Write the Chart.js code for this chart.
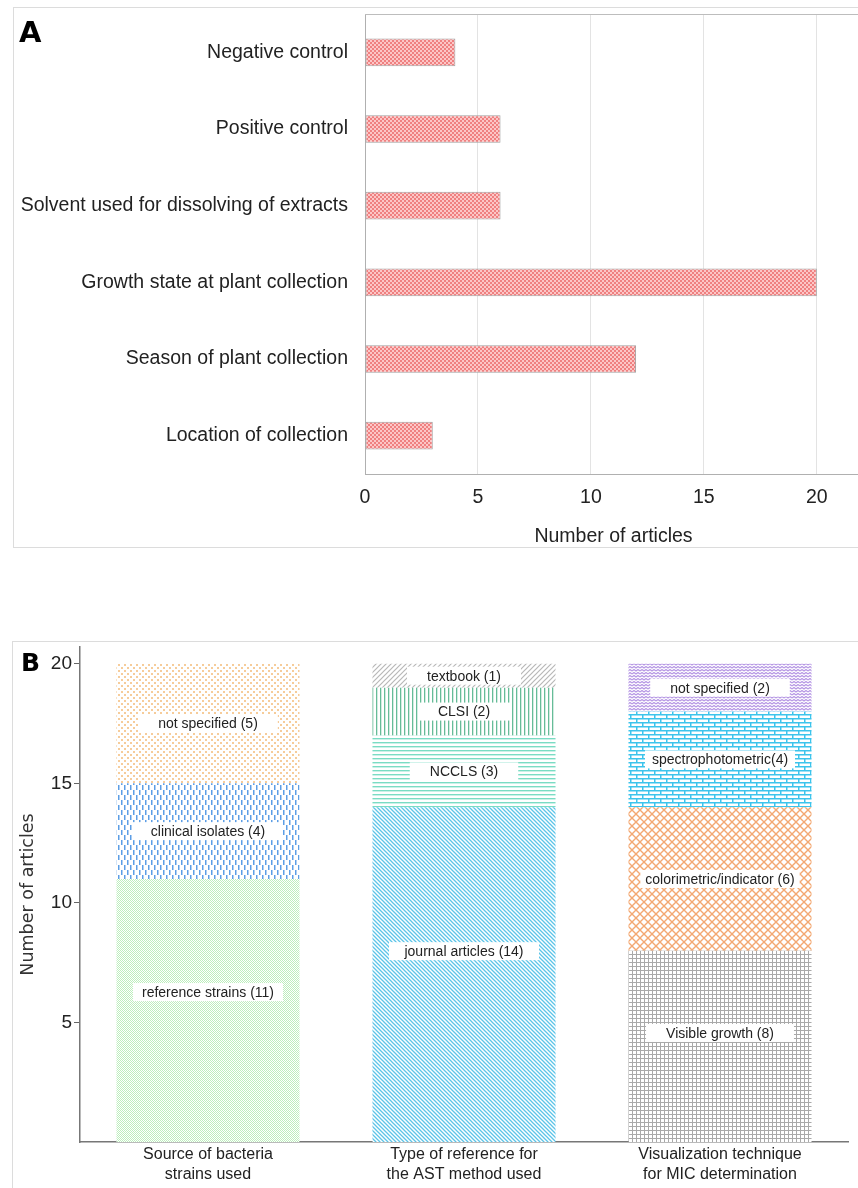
<!DOCTYPE html>
<html>
<head>
<meta charset="utf-8">
<script src="https://cdn.jsdelivr.net/npm/chart.js@4.4.1/dist/chart.umd.min.js"></script>
<style>
  html, body { margin: 0; padding: 0; background: #fff; overflow: hidden; width: 858px; height: 1188px; }
  .frame { position: absolute; border: 1px solid #dcdcdc; box-sizing: border-box; }
  .tag { position: absolute; font-family: "DejaVu Sans", sans-serif; font-weight: bold; line-height: 1; color: #000; }
  canvas { position: absolute; left: 0; }
</style>
</head>
<body>
<div class="frame" style="left:13px; top:7px; width:860px; height:541px;"></div>
<div class="frame" style="left:12px; top:641px; width:860px; height:600px;"></div>
<canvas id="chartA" width="870" height="560" style="top:0;"></canvas>
<canvas id="chartB" width="858" height="558" style="top:630px;"></canvas>
<div class="tag" style="left:19px; top:18px; font-size:29px;">A</div>
<div class="tag" style="left:21px; top:650px; font-size:25px;">B</div>

<script>
// Panel A: reported items
const itemLabels = ['Negative control', 'Positive control', 'Solvent used for dissolving of extracts',
  'Growth state at plant collection', 'Season of plant collection', 'Location of collection'];
const itemCounts = [4, 6, 6, 20, 12, 3];
const xTicksA = [0, 5, 10, 15, 20];

// Panel B: three stacked columns
const groupLabels = [['Source of bacteria', 'strains used'], ['Type of reference for', 'the AST method used'],
  ['Visualization technique', 'for MIC determination']];
const sourceNames = ['reference strains ', 'clinical isolates ', 'not specified '];
const sourceCounts = [11, 4, 5];
const referenceNames = ['journal articles ', 'NCCLS ', 'CLSI ', 'textbook '];
const referenceCounts = [14, 3, 2, 1];
const visualNames = ['Visible growth ', 'colorimetric/indicator ', 'spectrophotometric', 'not specified '];
const visualCounts = [8, 6, 4, 2];
const yTicksB = [5, 10, 15, 20];

const FONT = '"Liberation Sans", Arial, sans-serif';

// pequenos tiles para os padrões
function makePattern(w, h, draw) {
  const c = document.createElement('canvas');
  c.width = w; c.height = h;
  const g = c.getContext('2d');
  g.fillStyle = '#fff';
  g.fillRect(0, 0, w, h);
  draw(g);
  return g.createPattern(c, 'repeat');
}
function lines(g, color, width, segs) {
  g.strokeStyle = color; g.lineWidth = width;
  g.beginPath();
  segs.forEach(s => { g.moveTo(s[0], s[1]); g.lineTo(s[2], s[3]); });
  g.stroke();
}
function checker(g, color, size) {
  g.fillStyle = color;
  for (let y = 0; y < size; y++)
    for (let x = 0; x < size; x++)
      if ((x + y) % 2 === 0) g.fillRect(x, y, 1, 1);
}

const pinkCheck = makePattern(4, 4, g => {
  g.fillStyle = '#fcc6c6'; g.fillRect(0, 0, 4, 4);
  g.fillStyle = '#ef8080'; g.fillRect(0, 0, 2, 2); g.fillRect(2, 2, 2, 2);
});
const orangeDots = makePattern(6, 6, g => {
  g.fillStyle = '#f6cc9a'; g.fillRect(1, 1, 2, 2); g.fillRect(4, 4, 2, 2);
});
const blueDash = makePattern(6, 10, g => {
  g.fillStyle = '#5c9ee6'; g.fillRect(1, 0, 1.5, 5); g.fillRect(4, 5, 1.5, 5);
});
const greenMesh = makePattern(4, 4, g => checker(g, '#bdeebd', 4));
const greyDiag = makePattern(5, 5, g => {
  lines(g, '#b8b8b8', 1.2, [[0, 5, 5, 0], [-1, 1, 1, -1], [4, 6, 6, 4]]);
});
const greenVert = makePattern(4, 4, g => {
  g.fillStyle = '#66bc98'; g.fillRect(0, 0, 1.3, 4);
});
const mintHoriz = makePattern(4, 4, g => {
  g.fillStyle = '#7adcc4'; g.fillRect(0, 0, 4, 1.4);
});
const cyanDiag = makePattern(4, 4, g => {
  lines(g, '#5cc4e8', 1.3, [[0, 0, 4, 4], [-1, 3, 1, 5], [3, -1, 5, 1]]);
});
const purpleWave = makePattern(8, 6, g => {
  g.strokeStyle = '#b596e4'; g.lineWidth = 1.2;
  g.beginPath();
  g.moveTo(0, 2); g.lineTo(2, 0.5); g.lineTo(4, 2); g.lineTo(6, 0.5); g.lineTo(8, 2);
  g.moveTo(0, 5); g.lineTo(2, 3.5); g.lineTo(4, 5); g.lineTo(6, 3.5); g.lineTo(8, 5);
  g.stroke();
});
const cyanBrick = makePattern(12, 8, g => {
  lines(g, '#3cc4ec', 1.5, [[0, 0.75, 12, 0.75], [0, 4.75, 12, 4.75], [0.75, 0, 0.75, 4.75], [6.75, 4.75, 6.75, 8]]);
});
const orangeLattice = makePattern(8, 8, g => {
  g.fillStyle = '#f3a872'; g.fillRect(0, 0, 8, 8);
  g.fillStyle = '#fff';
  const diamond = (cx, cy, r) => {
    g.beginPath(); g.moveTo(cx, cy - r); g.lineTo(cx + r, cy); g.lineTo(cx, cy + r); g.lineTo(cx - r, cy); g.closePath(); g.fill();
  };
  diamond(4, 4, 3); diamond(0, 0, 3); diamond(8, 0, 3); diamond(0, 8, 3); diamond(8, 8, 3);
});
const greyGrid = makePattern(4, 4, g => {
  lines(g, '#a9a9a9', 1, [[0, 0.5, 4, 0.5], [0.5, 0, 0.5, 4]]);
});

const sourceFills = [greenMesh, blueDash, orangeDots];
const referenceFills = [cyanDiag, mintHoriz, greenVert, greyDiag];
const visualFills = [greyGrid, orangeLattice, cyanBrick, purpleWave];

// Gráfico A
const plotFrame = {
  id: 'plotFrame',
  afterDraw(chart) {
    const a = chart.chartArea, ctx = chart.ctx;
    ctx.save();
    ctx.strokeStyle = '#bdbdbd'; ctx.lineWidth = 1;
    ctx.beginPath(); ctx.moveTo(a.left, a.top + 0.5); ctx.lineTo(a.right, a.top + 0.5); ctx.stroke();
    ctx.restore();
  }
};

new Chart(document.getElementById('chartA'), {
  type: 'bar',
  data: {
    labels: itemLabels,
    datasets: [{
      data: itemCounts,
      backgroundColor: pinkCheck,
      borderColor: '#a0a0a0',
      borderWidth: 1,
      borderSkipped: false,
      categoryPercentage: 1,
      barPercentage: 0.36
    }]
  },
  options: {
    indexAxis: 'y',
    responsive: false,
    animation: false,
    layout: { padding: { top: 14, right: 8, bottom: 0, left: 0 } },
    plugins: { legend: { display: false }, tooltip: { enabled: false } },
    scales: {
      x: {
        min: 0, max: 22,
        afterFit: s => { s.height = 86; s.paddingLeft = 0; s.paddingRight = 0; },
        afterBuildTicks: s => { s.ticks = xTicksA.map(v => ({ value: v })); },
        ticks: { font: { family: FONT, size: 19.5 }, color: '#222', padding: 12 },
        grid: { drawTicks: false, color: c => c.tick && c.tick.value === 0 ? 'rgba(0,0,0,0)' : '#e3e3e3' },
        border: { color: '#b0b0b0' },
        title: { display: true, text: 'Number of articles', font: { family: FONT, size: 19.5 }, color: '#222', padding: { top: 0, bottom: 12 } }
      },
      y: {
        afterFit: s => { s.width = 365; s.paddingTop = 0; s.paddingBottom = 0; },
        ticks: { font: { family: FONT, size: 19.5 }, color: '#222', padding: 17 },
        grid: { display: false, drawTicks: false },
        border: { color: '#b0b0b0' }
      }
    }
  },
  plugins: [plotFrame]
});

// Gráfico B
const levels = Math.max(sourceCounts.length, referenceCounts.length, visualCounts.length);
const columns = [
  { names: sourceNames, counts: sourceCounts, fills: sourceFills },
  { names: referenceNames, counts: referenceCounts, fills: referenceFills },
  { names: visualNames, counts: visualCounts, fills: visualFills }
];
const stackSets = [];
for (let k = 0; k < levels; k++) {
  stackSets.push({
    data: columns.map(c => c.counts[k] ?? null),
    backgroundColor: columns.map(c => c.fills[k] || '#fff'),
    borderWidth: 0,
    categoryPercentage: 1,
    barPercentage: 0.715
  });
}

const segmentLabels = {
  id: 'segmentLabels',
  afterDatasetsDraw(chart) {
    const ctx = chart.ctx;
    ctx.save();
    ctx.font = '14px ' + FONT;
    ctx.textAlign = 'center';
    ctx.textBaseline = 'middle';
    chart.data.datasets.forEach((ds, k) => {
      chart.getDatasetMeta(k).data.forEach((bar, i) => {
        const v = ds.data[i];
        if (v == null) return;
        const col = columns[i];
        const text = col.names[k] + '(' + v + ')';
        const frac = k === 0 ? 0.57 : 0.5;
        const y = bar.base - (bar.base - bar.y) * frac;
        const tw = ctx.measureText(text).width;
        const pad = Math.min(20, Math.max(5, (150 - tw) / 2));
        const w = tw + pad * 2;
        ctx.fillStyle = '#fff';
        ctx.fillRect(bar.x - w / 2, y - 9, w, 18);
        ctx.fillStyle = '#222';
        ctx.fillText(text, bar.x, y + 1);
      });
    });
    ctx.restore();
  }
};

new Chart(document.getElementById('chartB'), {
  type: 'bar',
  data: { labels: groupLabels, datasets: stackSets },
  options: {
    responsive: false,
    animation: false,
    layout: { padding: { top: 17, right: 10, bottom: 0, left: 0 } },
    plugins: { legend: { display: false }, tooltip: { enabled: false } },
    scales: {
      x: {
        stacked: true,
        afterFit: s => { s.height = 46; },
        ticks: { font: { family: FONT, size: 16, lineHeight: 1.25 }, color: '#222', padding: 3 },
        grid: { display: false, drawTicks: false },
        border: { color: '#777', width: 1.5 }
      },
      y: {
        stacked: true,
        min: 0, max: 20.7,
        afterFit: s => { s.width = 80; s.paddingTop = 0; },
        afterBuildTicks: s => { s.ticks = yTicksB.map(v => ({ value: v })); },
        ticks: { font: { family: FONT, size: 19 }, color: '#222', padding: 2 },
        grid: { drawOnChartArea: false, drawTicks: true, tickLength: 6, color: '#666' },
        border: { color: '#777', width: 1.5 },
        title: { display: true, text: 'Number of articles', font: { family: 'DejaVu Sans', size: 17.5 }, color: '#333', padding: { top: 18, bottom: 0 } }
      }
    }
  },
  plugins: [segmentLabels]
});
</script>
</body>
</html>
